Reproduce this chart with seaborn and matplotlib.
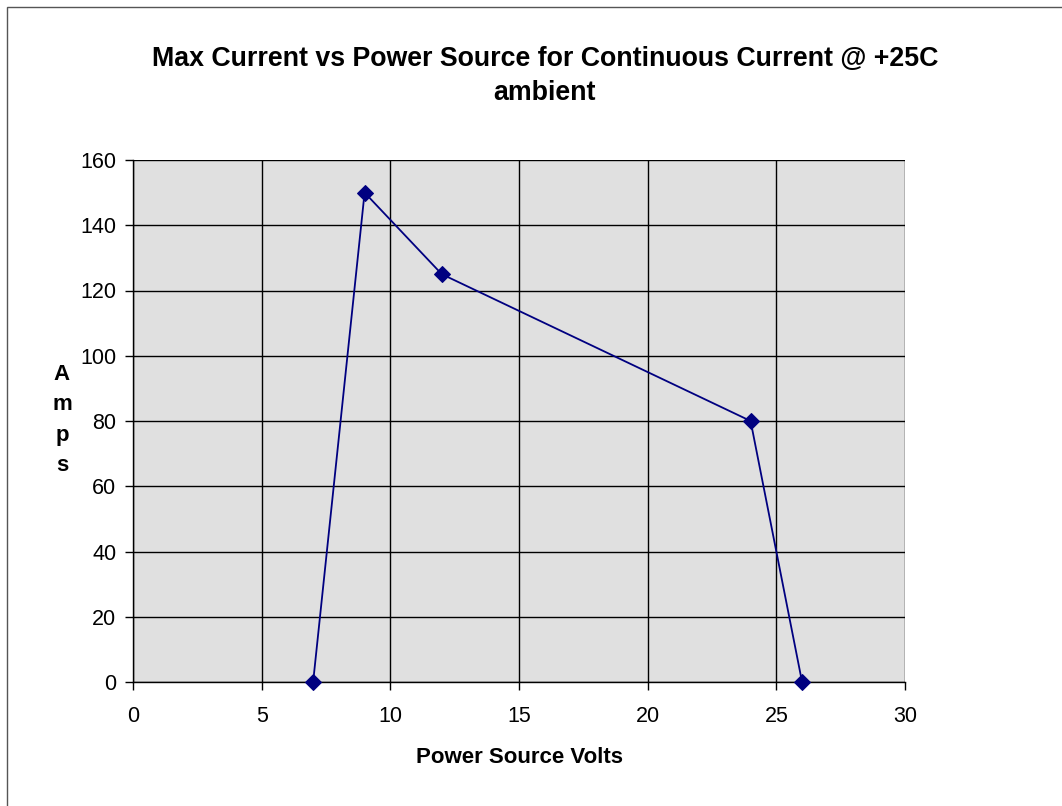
import matplotlib
matplotlib.use("Agg")
import matplotlib.pyplot as plt
import seaborn as sns
import pandas as pd
from matplotlib.patches import Rectangle

volts = [7, 9, 12, 24, 26]
amps = [0, 150, 125, 80, 0]
x_ticks = [0, 5, 10, 15, 20, 25, 30]
y_ticks = [0, 20, 40, 60, 80, 100, 120, 140, 160]

df = pd.DataFrame({"Volts": volts, "Amps": amps})

sns.set_style("white")
plt.rcParams['font.family'] = ['Liberation Sans', 'DejaVu Sans']
plt.rcParams['text.color'] = 'black'
plt.rcParams['xtick.color'] = 'black'
plt.rcParams['ytick.color'] = 'black'
plt.rcParams['axes.labelcolor'] = 'black'

fig = plt.figure(figsize=(10.62, 8.06), dpi=100)
ax = fig.add_axes([133/1062, 1-682/806, (905-133)/1062, (682-160)/806])
ax.set_facecolor('#E0E0E0')

sns.lineplot(data=df, x="Volts", y="Amps", ax=ax, color='#000080', linewidth=1.3,
             marker='D', markersize=8.5, markeredgecolor='#000080', sort=False,
             zorder=3, clip_on=False)

ax.set_xlim(0, 30)
ax.set_ylim(0, 160)
ax.set_xticks(x_ticks)
ax.set_yticks(y_ticks)
ax.grid(True, color='black', linewidth=1.0)
ax.set_axisbelow(True)
for s in ax.spines.values():
    s.set_color('black')
    s.set_linewidth(1.0)
ax.spines['top'].set_visible(False)
ax.spines['right'].set_visible(False)
ax.tick_params(axis='both', direction='out', length=6, width=1, color='black',
               labelsize=15.5, pad=6, bottom=True, left=True, labelcolor='black')
ax.tick_params(axis='x', pad=11)
ax.set_xlabel("Power Source Volts", fontsize=16, fontweight='bold', labelpad=15,
              color='black')
ax.set_ylabel("")

fig.text(62/1062, 1-420/806, "A\nm\np\ns", ha='center', va='center', fontsize=16,
         fontweight='bold', linespacing=1.6, color='black')
fig.text(545/1062, 1-76/806, "Max Current vs Power Source for Continuous Current @ +25C\nambient",
         ha='center', va='center', fontsize=19.3, fontweight='bold', linespacing=1.45,
         color='black')

fig.patches.append(Rectangle((7/1062, -0.05), 1.1, 1-7/806+0.05, transform=fig.transFigure,
                             fill=False, edgecolor='#555555', linewidth=1.0))

fig.savefig("out.png", dpi=100)
